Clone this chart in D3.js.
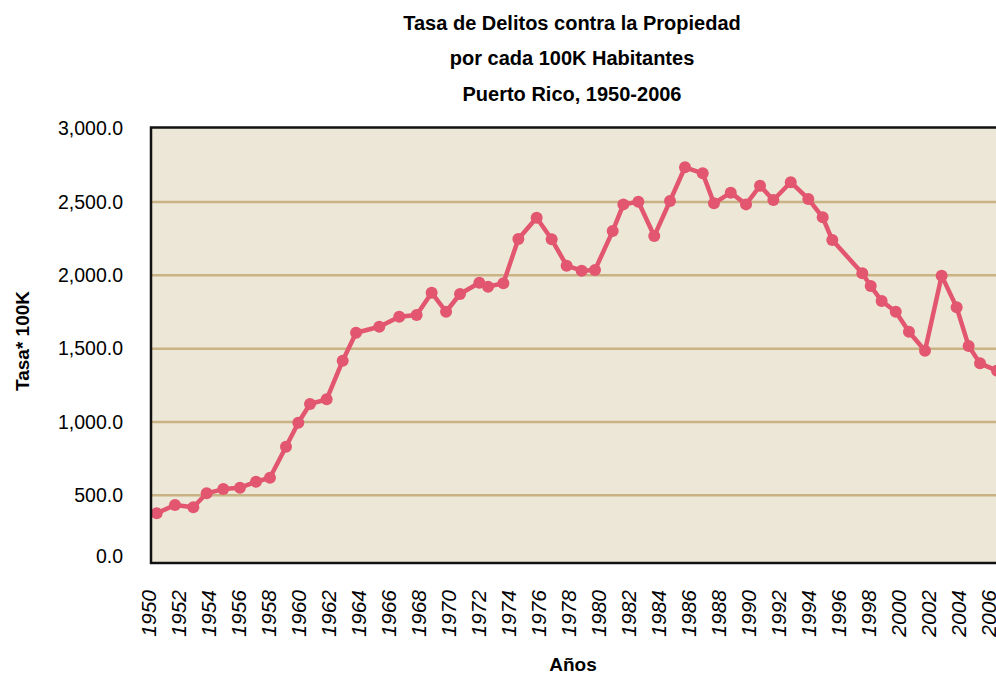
<!DOCTYPE html>
<html>
<head>
<meta charset="utf-8">
<script src="https://cdn.jsdelivr.net/npm/d3@7"></script>
<style>
  body { margin: 0; background: #fff; }
  text { font-family: "Liberation Sans", Arial, sans-serif; fill: #000; }
</style>
</head>
<body>
<div id="canvas"></div>
<script>
// values (year position, rate per 100K)
const years = [
  1950.58, 1951.80, 1953.02, 1953.91, 1955.02, 1956.13, 1957.20, 1958.13, 1959.20, 1960.02,
  1960.80, 1961.91, 1962.98, 1963.87, 1965.42, 1966.75, 1967.91, 1968.91, 1969.87, 1970.80,
  1972.09, 1972.67, 1973.69, 1974.69, 1975.91, 1976.91, 1977.91, 1978.91, 1979.80, 1980.98,
  1981.69, 1982.69, 1983.75, 1984.80, 1985.80, 1986.98, 1987.73, 1988.85, 1989.87, 1990.80,
  1991.69, 1992.85, 1994.02, 1994.98, 1995.62, 1997.62, 1998.18, 1998.91, 1999.85, 2000.73,
  2001.80, 2002.91, 2003.91, 2004.71, 2005.47, 2006.60
];
const rates = [
  378, 434, 419, 514, 543, 552, 593, 620, 832, 995,
  1123, 1155, 1418, 1609, 1650, 1718, 1730, 1882, 1752, 1873,
  1950, 1923, 1946, 2248, 2393, 2246, 2066, 2032, 2037, 2302,
  2484, 2502, 2268, 2507, 2737, 2696, 2491, 2564, 2484, 2611,
  2514, 2635, 2521, 2396, 2241, 2014, 1927, 1825, 1752, 1616,
  1486, 1998, 1782, 1518, 1400, 1350
];
const xTicks = [1950, 1952, 1954, 1956, 1958, 1960, 1962, 1964, 1966, 1968, 1970, 1972, 1974, 1976, 1978,
  1980, 1982, 1984, 1986, 1988, 1990, 1992, 1994, 1996, 1998, 2000, 2002, 2004, 2006];
const yTicks = [0, 500, 1000, 1500, 2000, 2500, 3000];
const gridTicks = [500, 1000, 1500, 2000, 2500];
const titleLines = ["Tasa de Delitos contra la Propiedad", "por cada 100K Habitantes", "Puerto Rico, 1950-2006"];

const width = 996;
const height = 674;
const plot = { left: 151, top: 127.5, right: 1010, bottom: 563 };

const data = years.map((yr, i) => ({ year: yr, rate: rates[i] }));

const svg = d3.select("#canvas").append("svg")
  .attr("width", width)
  .attr("height", height);

const x = d3.scaleLinear().domain([1950, 2006]).range([148, 988]);
const y = d3.scaleLinear().domain([0, 3000]).range([568.7, 128.7]);

svg.append("clipPath").attr("id", "clip")
  .append("rect")
  .attr("x", plot.left).attr("y", plot.top)
  .attr("width", plot.right - plot.left).attr("height", plot.bottom - plot.top);

// plot background
svg.append("rect")
  .attr("x", plot.left).attr("y", plot.top)
  .attr("width", plot.right - plot.left).attr("height", plot.bottom - plot.top)
  .style("fill", "#EDE7D7");

// gridlines
svg.append("g").selectAll("line").data(gridTicks).enter().append("line")
  .attr("x1", plot.left).attr("x2", plot.right)
  .attr("y1", d => y(d)).attr("y2", d => y(d))
  .style("stroke", "#C9B283")
  .style("stroke-width", 2.5);

// series
const g = svg.append("g").attr("clip-path", "url(#clip)");
const line = d3.line().x(d => x(d.year)).y(d => y(d.rate));

g.append("path")
  .datum(data)
  .attr("d", line)
  .style("fill", "none")
  .style("stroke", "#E2566F")
  .style("stroke-width", 4.5)
  .style("stroke-linejoin", "round");

g.selectAll("circle").data(data).enter().append("circle")
  .attr("cx", d => x(d.year))
  .attr("cy", d => y(d.rate))
  .attr("r", 6)
  .style("fill", "#E2566F");

// frame
svg.append("rect")
  .attr("x", plot.left).attr("y", plot.top)
  .attr("width", plot.right - plot.left).attr("height", plot.bottom - plot.top)
  .style("fill", "none")
  .style("stroke", "#111")
  .style("stroke-width", 2.5);

// y axis
const yAxis = svg.append("g")
  .attr("transform", "translate(123,0)")
  .call(d3.axisLeft(y).tickValues(yTicks).tickSize(0).tickPadding(0).tickFormat(d3.format(",.1f")));
yAxis.select(".domain").remove();
yAxis.selectAll("text").style("font-size", "19.5px").style("fill", "#000");
// the 0.0 label sits on the bottom edge of the frame
yAxis.selectAll(".tick").filter(d => d === 0).attr("transform", "translate(0,557)");

// x axis
const xAxis = svg.append("g")
  .attr("transform", "translate(0,590)")
  .call(d3.axisBottom(x).tickValues(xTicks).tickSize(0).tickFormat(d3.format("d")));
xAxis.select(".domain").remove();
xAxis.selectAll("text")
  .attr("x", 0).attr("y", 0).attr("dy", "0.35em")
  .attr("transform", "rotate(-90)")
  .style("text-anchor", "end")
  .style("font-family", "'Liberation Sans Narrow', 'Arial Narrow', 'Liberation Sans', sans-serif")
  .style("font-style", "italic")
  .style("font-size", "21px")
  .style("fill", "#000");

// titles
svg.append("g").selectAll("text").data(titleLines).enter().append("text")
  .attr("x", 572)
  .attr("y", (d, i) => 30 + i * 35.3)
  .attr("text-anchor", "middle")
  .style("font-size", "20px")
  .style("font-weight", "bold")
  .text(d => d);

svg.append("text")
  .attr("transform", "translate(29,341) rotate(-90)")
  .attr("text-anchor", "middle")
  .style("font-size", "19px")
  .style("font-weight", "bold")
  .text("Tasa* 100K");

svg.append("text")
  .attr("x", 573)
  .attr("y", 671)
  .attr("text-anchor", "middle")
  .style("font-size", "19px")
  .style("font-weight", "bold")
  .text("Años");
</script>
</body>
</html>
